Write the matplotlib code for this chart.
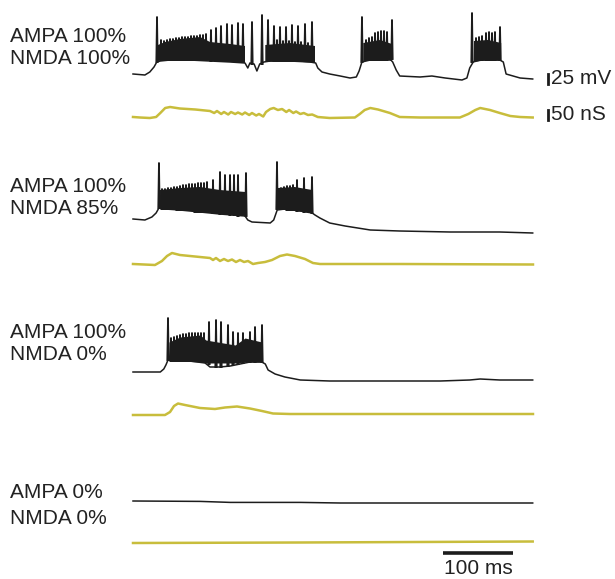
import matplotlib.pyplot as plt
import numpy as np

nan = np.nan

# values: time in ms, voltage in mV, conductance in nS

# row 1 - AMPA 100% / NMDA 100%
v1_t = [0, 17, 24, 30, 34, 39, 53, 81, 110, 139, 160, 164, 167, 173, 177, 181, 187, 196, 224, 253, 261,
        264, 270, 281, 296, 310, 319, 323, 327, 339, 367, 371, 376, 381, 410, 427, 446, 470, 477, 481,
        486, 496, 524, 529, 533, 553, 571]
v1_v = [-62.5, -65, -57.5, -45, -32.5, -30, -27.5, -27.5, -30, -32.5, -35, -47.5, -35, -37.5, -55, -37.5,
        -32.5, -30, -30, -32.5, -35, -47.5, -57.5, -62.5, -67.5, -72.5, -70, -55, -32.5, -27.5, -25,
        -32.5, -52.5, -67.5, -70, -67.5, -72.5, -77.5, -72.5, -47.5, -32.5, -27.5, -27.5, -32.5, -62.5,
        -72.5, -75]
band1_t = [35.7, 45.7, 67, 96, 110, 139, 160, nan, 189, 224, 260, nan, 329, 353, 370, nan, 487, 507, 526]
band1_lo = [-30, -27.5, -27.5, -27.5, -30, -32.5, -35, nan, -32.5, -30, -35, nan, -30, -27.5, -30, nan,
            -32.5, -27.5, -30]
band1_hi = [10, 17.5, 25, 30, 17.5, 12.5, 7.5, nan, 10, 15, 7.5, nan, 15, 22.5, 12.5, nan, 20, 22.5, 15]
spk1_t = [34.3, 40, 44.3, 48.6, 52.9, 57.1, 61.4, 65.7, 70, 74.3, 78.6, 82.9, 87.1, 91.4, 95.7, 100, 104.3,
          111.4, 118.6, 125.7, 134.3, 141.4, 150, 157.1, 170, 184.3, 192.9,
          201.4, 205.7, 210, 214.3, 218.6, 222.9, 227.1, 231.4, 235.7, 240, 245.7, 250, 255.7,
          327.1, 332.9, 337.1, 341.4, 345.7, 350, 354.3, 358.6, 362.9, 370,
          484.3, 490, 494.3, 498.6, 504.3, 508.6, 512.9, 517.1, 524.3]
spk1_peak = [80, 22.5, 20, 22.5, 25, 25, 27.5, 27.5, 30, 30, 30, 32.5, 32.5, 32.5, 35, 35, 37.5,
             47.5, 52.5, 57.5, 62.5, 60, 65, 62.5, 67.5, 85, 72.5,
             57.5, 22.5, 55, 20, 55, 20, 60, 17.5, 57.5, 17.5, 62.5, 15, 67.5,
             80, 22.5, 27.5, 30, 40, 42.5, 45, 45, 42.5, 72.5,
             90, 27.5, 30, 32.5, 40, 42.5, 40, 42.5, 55]
spk1_base = ([-32.5] + [-27.5] * 16 + [-30] * 7 + [-37.5, -37.5, -30] + [-30] * 13
             + [-32.5] + [-27.5] * 8 + [-25] + [-32.5] + [-27.5] * 8)
g1_t = [0, 10, 24, 33, 39, 46, 53, 67, 89, 110, 116, 120, 126, 130, 136, 140, 146, 150, 156, 160, 166,
        170, 176, 180, 186, 190, 196, 201, 207, 213, 219, 223, 229, 233, 239, 244, 250, 256, 264, 281,
        317, 324, 331, 339, 350, 367, 381, 410, 467, 479, 489, 496, 510, 524, 539, 553, 571]
g1_g = [5, 2.5, 0, 5, 25, 50, 55, 47.5, 42.5, 35, 25, 35, 20, 30, 17.5, 30, 20, 27.5, 17.5, 27.5, 15,
        25, 12.5, 20, 7.5, 30, 45, 50, 40, 45, 30, 40, 25, 32.5, 20, 25, 15, 17.5, 5, 0,
        2.5, 20, 40, 50, 42.5, 25, 5, 2.5, 2.5, 20, 40, 50, 40, 25, 10, 5, 2.5]

# row 2 - AMPA 100% / NMDA 85%
v2_t = [0, 17, 27, 33, 37, 46, 67, 96, 124, 160, 164, 170, 196, 201, 206, 217, 239, 256, 260, 267, 281,
        303, 339, 381, 453, 524, 571]
v2_v = [-62.5, -65, -57.5, -47.5, -35, -37.5, -40, -45, -50, -55, -65, -70, -72.5, -65, -40, -37.5,
        -42.5, -47.5, -52.5, -60, -72.5, -80, -90, -92.5, -95, -95, -97.5]
band2_t = [38.6, 67, 96, 124, 161, nan, 207, 231, 256]
band2_lo = [-35, -40, -45, -50, -55, nan, -37.5, -42.5, -47.5]
band2_hi = [10, 15, 17.5, 10, 5, nan, 15, 17.5, 10]
spk2_t = [37.1, 41.4, 45.7, 50, 54.3, 58.6, 62.9, 67.1, 71.4, 75.7, 80, 84.3, 88.6, 92.9, 97.1, 101.4, 105.7,
          114.3, 124.3, 131.4, 138.6, 144.3, 150, 161.4,
          205.7, 211.4, 215.7, 220, 224.3, 228.6, 234.3, 244.3, 255.7]
spk2_peak = [77.5, 12.5, 12.5, 15, 15, 17.5, 17.5, 20, 22.5, 22.5, 25, 25, 25, 27.5, 27.5, 27.5, 30,
             35, 55, 47.5, 47.5, 47.5, 47.5, 52.5,
             80, 15, 17.5, 20, 20, 22.5, 35, 40, 42.5]
spk2_base = ([-35] + [-37.5] * 5 + [-40] * 6 + [-45] * 5
             + [-47.5, -50, -50, -52.5, -52.5, -55, -55]
             + [-37.5, -37.5, -37.5, -40, -40, -40, -42.5, -45, -47.5])
g2_t = [0, 31.4, 41.4, 48.6, 55.7, 67.1, 95.7, 110, 114.3, 118.6, 124.3, 130, 135.7, 141.4, 147.1, 152.9,
        158.6, 164.3, 171.4, 178.6, 188.6, 198.6, 210, 220, 231.4, 245.7, 257.1, 267.1, 381.4, 571.4]
g2_g = [5, 0, 20, 45, 60, 50, 40, 35, 25, 35, 20, 30, 20, 27.5, 15, 25, 15, 20, 5, 10, 15, 25, 45, 52.5,
        45, 30, 10, 5, 5, 2.5]

# row 3 - AMPA 100% / NMDA 0%
v3_t = [0, 39, 44, 47, 50, 60, 81, 103, 110, 124, 139, 153, 167, 184, 189, 193, 203, 217, 239, 281, 381,
        439, 481, 496, 524, 571]
v3_v = [-65, -65, -57.5, -47.5, -35, -35, -37.5, -42.5, -52.5, -52.5, -50, -45, -40, -40, -45, -60, -70,
        -77.5, -85, -87.5, -87.5, -87.5, -85, -82.5, -85, -85]
band3_t = [51.4, 67, 96, 104, 146, 160, 184]
band3_lo = [-35, -37.5, -40, -42.5, -42.5, -40, -40]
band3_hi = [10, 22.5, 27.5, 15, 2.5, 20, 10]
spk3_t = [50, 54.3, 58.6, 62.9, 67.1, 71.4, 75.7, 80, 84.3, 88.6, 92.9, 97.1, 101.4,
          108.6, 118.6, 125.7, 135.7, 142.9, 150, 157.1, 167.1, 174.3, 184.3]
spk3_peak = [70, 20, 22.5, 25, 27.5, 30, 30, 32.5, 32.5, 32.5, 32.5, 32.5, 32.5,
             60, 65, 60, 52.5, 35, 32.5, 32.5, 35, 47.5, 52.5]
spk3_base = [-35] + [-37.5] * 12 + [-45, -52.5, -52.5, -50, -45, -45, -42.5, -40, -40, -40]
g3_t = [0, 45.7, 52.9, 58.6, 64.3, 74.3, 95.7, 117.1, 131.4, 148.6, 167.1, 184.3, 200, 224.3, 381.4, 571.4]
g3_g = [0, 0, 15, 45, 57.5, 50, 35, 30, 37.5, 42.5, 32.5, 20, 7.5, 5, 5, 5]

# row 4 - AMPA 0% / NMDA 0%
v4_t = [0, 96, 139, 239, 296, 381, 571]
v4_v = [-65, -66, -68.5, -68.5, -70, -70, -70]
g4_t = [0, 239, 571]
g4_g = [0, 2.5, 7.5]

labels = [("AMPA 100%", "NMDA 100%"), ("AMPA 100%", "NMDA 85%"),
          ("AMPA 100%", "NMDA 0%"), ("AMPA 0%", "NMDA 0%")]

# layout (pixels of the 615x579 picture)
W, H, DPI = 615, 579, 100
X0 = 133             # pixel column of t = 0
MS_PX = 1 / 0.7      # 100 ms = 70 px
MV_PX = 2.5
NS_PX = 5.0
V_REF = -65.0
v_anchor = [75, 220, 372, 501]   # pixel row where V_REF sits
g_anchor = [118, 265, 415, 543]  # pixel row where g = 0 sits
label_y = [(36, 58), (186, 208), (333, 355), (493, 519)]

BLACK = '#1c1c1c'
YELLOW = '#c8bd3c'
TXT = '#222222'
FS = 15

plt.rcParams['font.family'] = ['Liberation Sans', 'DejaVu Sans']
fig = plt.figure(figsize=(W / DPI, H / DPI), dpi=DPI)


def trace_axes(anchor, per_px, ref):
    ax = fig.add_axes([0, 0, 1, 1])
    ax.set_xlim(-X0 * MS_PX, (W - X0) * MS_PX)
    ax.set_ylim(ref - (H - anchor) * per_px, ref + anchor * per_px)
    ax.axis('off')
    ax.patch.set_alpha(0)
    return ax


def spike_lines(t, peak, base, w=1.0):
    xs, ys = [], []
    for ti, p, b in zip(t, peak, base):
        xs += [ti - w, ti, ti + w, nan]
        ys += [b, p, b, nan]
    return xs, ys


rows = [
    (v1_t, v1_v, (band1_t, band1_lo, band1_hi), (spk1_t, spk1_peak, spk1_base), g1_t, g1_g),
    (v2_t, v2_v, (band2_t, band2_lo, band2_hi), (spk2_t, spk2_peak, spk2_base), g2_t, g2_g),
    (v3_t, v3_v, (band3_t, band3_lo, band3_hi), (spk3_t, spk3_peak, spk3_base), g3_t, g3_g),
    (v4_t, v4_v, None, None, g4_t, g4_g),
]

v_axes, g_axes = [], []
for i, (vt, vv, band, spk, gt, gg) in enumerate(rows):
    axv = trace_axes(v_anchor[i], MV_PX, V_REF)
    axv.plot(vt, vv, color=BLACK, lw=1.1, solid_joinstyle='round')
    if band is not None:
        bt, blo, bhi = (np.array(a, dtype=float) for a in band)
        axv.fill_between(bt, blo, bhi, color=BLACK, lw=0)
    if spk is not None:
        sx, sy = spike_lines(*spk)
        axv.plot(sx, sy, color=BLACK, lw=1.3)
    axg = trace_axes(g_anchor[i], NS_PX, 0.0)
    axg.plot(gt, gg, color=YELLOW, lw=1.8, solid_joinstyle='round')
    v_axes.append(axv)
    g_axes.append(axg)

    for txt, yp in zip(labels[i], label_y[i]):
        fig.text(10 / W, 1 - yp / H, txt, fontsize=FS, va='center', ha='left', color=TXT)

# scale bars
bar_t = (548 - X0) * MS_PX
v_axes[0].plot([bar_t, bar_t], [-87.5, -62.5], color=BLACK, lw=2)
v_axes[0].text(bar_t + 4, -75, "25 mV", fontsize=FS, va='center', ha='left', color=TXT)
g_axes[0].plot([bar_t, bar_t], [-10, 40], color=BLACK, lw=2)
g_axes[0].text(bar_t + 4, 15, "50 nS", fontsize=FS, va='center', ha='left', color=TXT)

axt = v_axes[3]
axt.plot([443, 543], [V_REF - (553 - v_anchor[3]) * MV_PX] * 2, color=BLACK, lw=2.6, solid_capstyle='butt')
axt.text(493, V_REF - (569 - v_anchor[3]) * MV_PX, "100 ms", fontsize=FS, va='center', ha='center',
         color=TXT)

fig.savefig('out.png', dpi=DPI)
